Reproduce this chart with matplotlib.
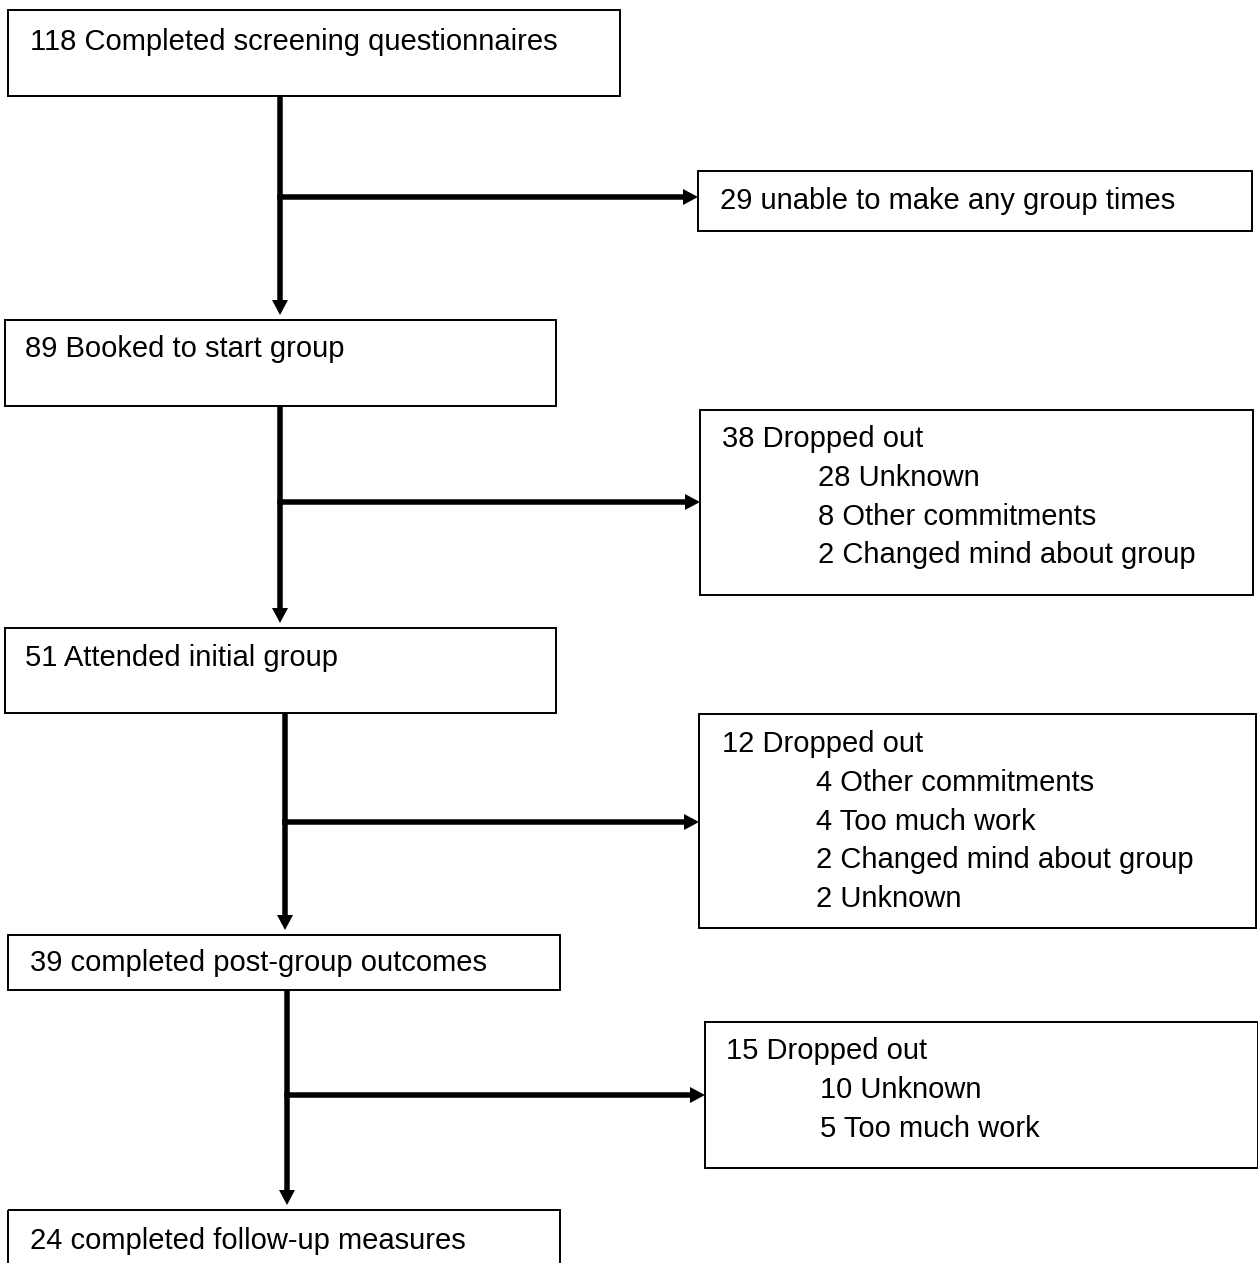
import matplotlib
matplotlib.use("Agg")
import matplotlib.pyplot as plt
from matplotlib.patches import Rectangle

# ---- data ----
main_n = [118, 89, 51, 39, 24]
main_text = ["Completed screening questionnaires", "Booked to start group",
             "Attended initial group", "completed post-group outcomes",
             "completed follow-up measures"]
excl_n = [29, 38, 12, 15]
excl_text = ["unable to make any group times", "Dropped out", "Dropped out", "Dropped out"]
reason_n = [[], [28, 8, 2], [4, 4, 2, 2], [10, 5]]
reason_text = [[],
               ["Unknown", "Other commitments", "Changed mind about group"],
               ["Other commitments", "Too much work", "Changed mind about group", "Unknown"],
               ["Unknown", "Too much work"]]

# ---- layout (pixel coordinates, y downward) ----
W, H = 1258, 1263
main_boxes = [(8, 10, 620, 96), (5, 320, 556, 406), (5, 628, 556, 713),
              (8, 935, 560, 990), (8, 1210, 560, 1275)]
main_text_xy = [(30, 50), (25, 357), (25, 666), (30, 971), (30, 1249)]
spine_x = [280, 280, 285, 287]
excl_boxes = [(698, 171, 1252, 231), (700, 410, 1253, 595),
              (699, 714, 1256, 928), (705, 1022, 1258, 1168)]
branch_y = [197, 502, 822, 1095]
excl_text_xy = [(720, 209), (722, 447), (722, 752), (726, 1059)]
reason_x = [0, 818, 816, 820]
line_step = 38.8

fig = plt.figure(figsize=(W / 100, H / 100), dpi=100)
ax = fig.add_axes([0, 0, 1, 1])
ax.set_xlim(0, W)
ax.set_ylim(H, 0)
ax.axis("off")

FONT = dict(family=["Liberation Sans", "DejaVu Sans"], fontsize=21, color="black")

def box(x0, y0, x1, y1):
    ax.add_patch(Rectangle((x0, y0), x1 - x0, y1 - y0, fill=False,
                           edgecolor="black", linewidth=1.4))

def arrow(x0, y0, x1, y1):
    ax.arrow(x0, y0, x1 - x0, y1 - y0, width=5.5, head_width=16, head_length=15,
             length_includes_head=True, color="black", linewidth=0)

for i, (b, n, t) in enumerate(zip(main_boxes, main_n, main_text)):
    box(*b)
    tx, ty = main_text_xy[i]
    ax.text(tx, ty, f"{n} {t}", va="baseline", ha="left", **FONT)

for i in range(len(excl_n)):
    top = main_boxes[i][3]
    bottom = main_boxes[i + 1][1]
    x = spine_x[i]
    arrow(x, top, x, bottom - 5)
    eb = excl_boxes[i]
    arrow(x - 2.75, branch_y[i], eb[0], branch_y[i])
    box(*eb)
    tx, ty = excl_text_xy[i]
    ax.text(tx, ty, f"{excl_n[i]} {excl_text[i]}", va="baseline", ha="left", **FONT)
    for j, (rn, rt) in enumerate(zip(reason_n[i], reason_text[i])):
        ax.text(reason_x[i], ty + (j + 1) * line_step, f"{rn} {rt}",
                va="baseline", ha="left", **FONT)

fig.savefig("out.png", dpi=100, facecolor="white")
